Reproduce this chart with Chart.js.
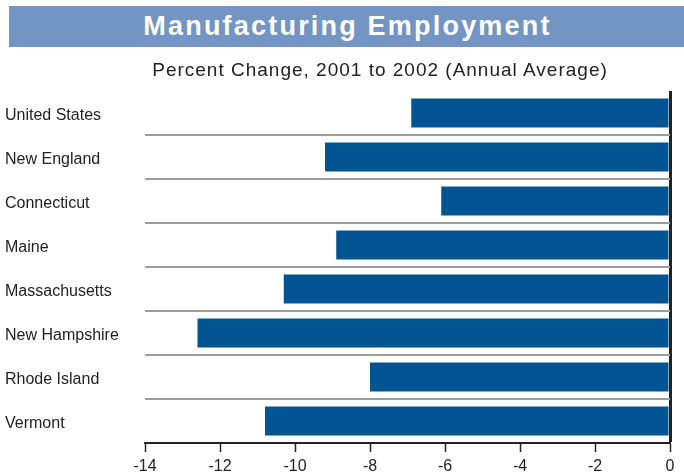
<!DOCTYPE html>
<html>
<head>
<meta charset="utf-8">
<script src="https://cdn.jsdelivr.net/npm/chart.js@4"></script>
<style>
  html, body { margin: 0; padding: 0; background: #fff; }
  #wrap { position: relative; width: 684px; height: 476px; overflow: hidden; }
  #band { position: absolute; left: 9px; top: 6px; width: 675px; height: 41px; background: #7395c3;
          color: #fff; font: bold 27px "Liberation Sans", Arial, sans-serif; letter-spacing: 2.2px;
          text-align: center; line-height: 41px; text-indent: 2px; }
  #sub { position: absolute; left: 0; top: 57px; width: 760px; text-align: center; color: #222;
         font: 19px "Liberation Sans", Arial, sans-serif; line-height: 26px; letter-spacing: 1.0px; }
  canvas { position: absolute; left: 0; top: 0; }
</style>
</head>
<body>
<div id="wrap">
  <canvas id="c" width="684" height="476"></canvas>
  <div id="band">Manufacturing Employment</div>
  <div id="sub">Percent Change, 2001 to 2002 (Annual Average)</div>
</div>
<script>
const categories = ["United States", "New England", "Connecticut", "Maine", "Massachusetts", "New Hampshire", "Rhode Island", "Vermont"];
const percentChange = [-6.9, -9.2, -6.1, -8.9, -10.3, -12.6, -8.0, -10.8];
const xMin = -14, xMax = 0, xStep = 2;

new Chart(document.getElementById('c'), {
  type: 'bar',
  data: {
    labels: categories,
    datasets: [{
      data: percentChange,
      backgroundColor: '#025592',
      borderWidth: 0,
      barPercentage: 0.66,
      categoryPercentage: 1.0
    }]
  },
  options: {
    indexAxis: 'y',
    responsive: false,
    animation: false,
    layout: { padding: { left: 5, right: 14, top: 91, bottom: 0 } },
    plugins: { legend: { display: false }, tooltip: { enabled: false } },
    scales: {
      x: {
        min: xMin, max: xMax,
        ticks: { stepSize: xStep, color: '#222', font: { family: 'Liberation Sans', size: 16 }, padding: 5 },
        grid: {
          color: ctx => (ctx.tick && ctx.tick.value === 0) ? '#222' : 'rgba(0,0,0,0)',
          lineWidth: ctx => (ctx.tick && ctx.tick.value === 0) ? 3 : 1,
          tickColor: '#222', tickLength: 9, tickWidth: 1.5, drawTicks: true
        },
        border: { display: true, color: '#222', width: 2 },
        afterFit: s => { s.height = 33; }
      },
      y: {
        ticks: { color: '#222', crossAlign: 'far', labelOffset: 3, font: { family: 'Liberation Sans', size: 16 } },
        grid: {
          offset: true,
          color: ctx => (ctx.index >= 1 && ctx.index <= 7) ? '#9d9d9d' : 'rgba(0,0,0,0)',
          lineWidth: 2, drawTicks: false
        },
        border: { display: false },
        afterFit: s => { s.width = 140; }
      }
    }
  }
});
</script>
</body>
</html>
